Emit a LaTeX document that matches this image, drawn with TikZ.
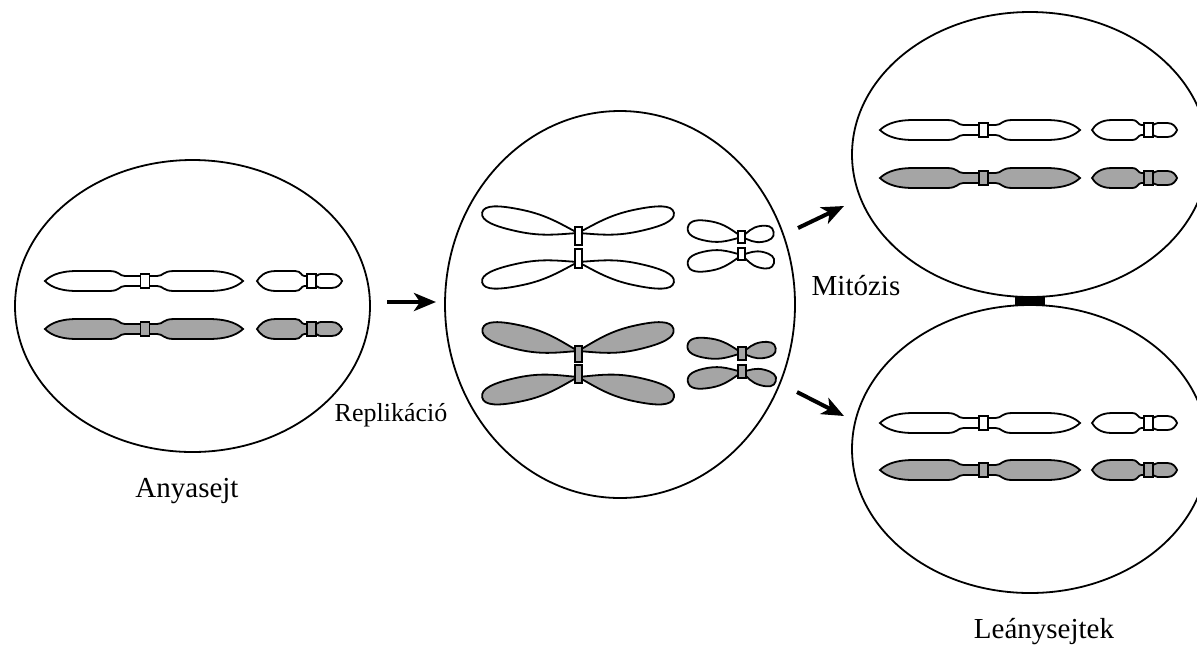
\documentclass[tikz,border=0pt]{standalone}
\usepackage{fontspec}
\setmainfont{Liberation Serif}
\usetikzlibrary{arrows.meta, calc}
\definecolor{chromgray}{RGB}{165,165,165}
\tikzset{
    cellE/.style={draw=black, line width=0.9pt},
    chrom/.style={draw=black, fill=#1, line width=0.9pt},
    chrom/.default={white},
    arrowR/.style={-{Stealth[length=11pt, width=9pt, inset=3pt]}, line width=2pt}
}
% one arm leaving the centromere (#2,#3) in direction #4, length #5, half width #6, neck #7
\newcommand{\arm}[7]{%
    \begin{scope}[shift={(#2,#3)}, xscale=#4]
        \draw[#1] (0,-5) -- (#7,-5) .. controls ({#7+0.08*(#5-#7)},-5) and ({#7+0.06*(#5-#7)},-#6) .. ({#7+0.2*(#5-#7)},-#6)
            -- ({#7+0.6*(#5-#7)},-#6) .. controls ({#7+0.85*(#5-#7)},-#6) and ({#7+0.95*(#5-#7)},{-0.4*#6}) .. (#5,0)
            .. controls ({#7+0.95*(#5-#7)},{0.4*#6}) and ({#7+0.85*(#5-#7)},#6) .. ({#7+0.6*(#5-#7)},#6)
            -- ({#7+0.2*(#5-#7)},#6) .. controls ({#7+0.06*(#5-#7)},#6) and ({#7+0.08*(#5-#7)},5) .. (#7,5) -- (0,5) -- cycle;
    \end{scope}}
% whole chromosome: centromere (#2,#3), left arm #4 with neck #5, right arm #6 with neck #7, right half width #8
\newcommand{\chromo}[8]{%
    \arm{#1}{#2}{#3}{-1}{#4}{10}{#5}
    \arm{#1}{#2}{#3}{1}{#6}{#8}{#7}
    \draw[#1] ({#2-4.5},{#3-7}) rectangle ({#2+4.5},{#3+7});}
% tilted arm of a doubled chromosome: pivot (#2,#3), angle #4, length #5, half width #6
\newcommand{\xarm}[6]{%
    \begin{scope}[shift={(#2,#3)}, rotate=#4]
        \draw[#1] (0,0) .. controls ({0.2*#5},{-0.5*#6}) and ({0.35*#5},-#6) .. ({0.6*#5},-#6)
            .. controls ({0.85*#5},-#6) and (#5,{-0.75*#6}) .. (#5,0)
            .. controls (#5,{0.75*#6}) and ({0.85*#5},#6) .. ({0.6*#5},#6)
            .. controls ({0.35*#5},#6) and ({0.2*#5},{0.5*#6}) .. (0,0) -- cycle;
    \end{scope}}

\begin{document}
\begin{tikzpicture}[x=0.5pt, y=-0.5pt]
    \useasboundingbox (0,0) rectangle (1197,649);
    \clip (0,0) rectangle (1197,649);
    \tikzstyle{every node}=[inner sep=0pt, font=\fontsize{14.5}{17}\selectfont];
    % cells
    \draw[cellE] (192.5,306) ellipse (177.5 and 146);
    \draw[cellE] (620,304.5) ellipse (175 and 193.5);
    \draw[cellE] (1030,154.5) ellipse (178 and 142.5);
    \draw[cellE] (1030,449) ellipse (178 and 144);
    \fill (1015,297) rectangle (1045,305);
    % mother cell
    \foreach \y/\c in {281/white, 329/chromgray}{
        \chromo{chrom=\c}{145}{\y}{100}{20}{98}{12}{10}
        \chromo{chrom=\c}{311.5}{\y}{54.5}{7}{30.5}{4.5}{7}
    }
    % replicated
    \xarm{chrom=white}{578}{233}{168}{98}{11}
    \xarm{chrom=white}{578}{233}{12}{98}{11}
    \xarm{chrom=white}{578}{262}{192}{98}{11}
    \xarm{chrom=white}{578}{262}{348}{98}{11}
    \draw[chrom=white] (575,227) rectangle (582,245);
    \draw[chrom=white] (575,249) rectangle (582,268);
    \xarm{chrom=chromgray}{578}{351}{167}{98}{12}
    \xarm{chrom=chromgray}{578}{351}{13}{98}{12}
    \xarm{chrom=chromgray}{578}{377}{192}{98}{12}
    \xarm{chrom=chromgray}{578}{377}{348}{98}{12}
    \draw[chrom=chromgray] (575,346) rectangle (582,362);
    \draw[chrom=chromgray] (575,365) rectangle (582,383);
    \xarm{chrom=white}{742}{237}{170}{55}{10}
    \xarm{chrom=white}{742}{237}{9}{32}{8}
    \xarm{chrom=white}{742}{255}{190}{55}{10}
    \xarm{chrom=white}{742}{255}{346}{33}{8}
    \draw[chrom=white] (738,231) rectangle (745,243);
    \draw[chrom=white] (738,248) rectangle (745,260);
    \xarm{chrom=chromgray}{742}{353}{172}{55}{10}
    \xarm{chrom=chromgray}{742}{353}{8}{34}{8}
    \xarm{chrom=chromgray}{742}{372}{190}{55}{10}
    \xarm{chrom=chromgray}{742}{372}{345}{35}{8}
    \draw[chrom=chromgray] (738,347) rectangle (746,360);
    \draw[chrom=chromgray] (738,365) rectangle (746,378);
    % daughter cells
    \foreach \y/\c in {130/white, 178/chromgray, 423/white, 470/chromgray}{
        \chromo{chrom=\c}{983.5}{\y}{103.5}{20}{96.5}{12}{10}
        \chromo{chrom=\c}{1148.5}{\y}{56.5}{7}{28.5}{4.5}{7}
    }
    % arrows
    \coordinate (r1) at (387,302);
    \coordinate (r2) at (436,302);
    \coordinate (m1) at (798,228);
    \coordinate (m2) at (844,206);
    \coordinate (m3) at (797,392);
    \coordinate (m4) at (844,416);
    \draw[arrowR] (r1) -- (r2);
    \draw[arrowR] (m1) -- (m2);
    \draw[arrowR] (m3) -- (m4);
    % labels
    \node[anchor=base] (anya) at (187,497) {Anyasejt};
    \node[anchor=base, font=\fontsize{13}{15}\selectfont] (repl) at (391,421) {Replikáció};
    \node[anchor=base] (mito) at (856,295) {Mitózis};
    \node[anchor=base] (leany) at (1044,638) {Leánysejtek};
\end{tikzpicture}
\end{document}
